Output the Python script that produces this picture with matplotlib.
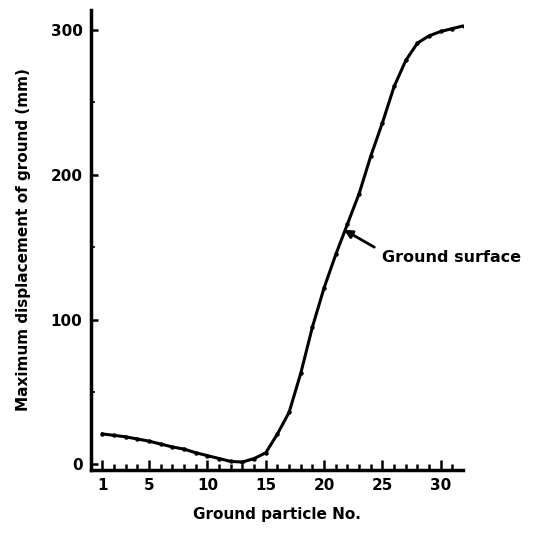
import matplotlib
matplotlib.use('Agg')
import matplotlib.pyplot as plt
from matplotlib.ticker import MultipleLocator

# ground particle number vs max displacement (mm)
particle = list(range(1, 33))
disp = [21, 20, 19, 17.5, 16, 14, 12, 10.5, 8, 6, 4, 2, 1.6, 4, 8, 21,
        36, 63, 95, 122, 145, 166, 187, 213, 236, 261, 279, 291, 296, 299, 301, 303]
xticks = [1, 5, 10, 15, 20, 25, 30]
yticks = [0, 100, 200, 300]

plt.rcParams['font.family'] = ['DejaVu Sans']
plt.rcParams['font.weight'] = 'bold'

fig = plt.figure(figsize=(5.34, 5.41), dpi=100)
ax = fig.add_axes([0.170, 0.131, 0.697, 0.851])

ax.plot(particle, disp, color='black', lw=2.2, marker='o', ms=2.2)

# short pointer from label to curve
ax.annotate('', xy=(21.7, 162), xytext=(24.3, 150),
            arrowprops=dict(arrowstyle='-|>', color='black', lw=2,
                            shrinkA=0, shrinkB=0, mutation_scale=12))
ax.text(25.0, 143, 'Ground surface', fontsize=11.5, fontweight='bold',
        va='center', ha='left')

ax.set_xlim(0, 31.9)
ax.set_ylim(-4, 314)
ax.set_xticks(xticks)
ax.set_yticks(yticks)
ax.xaxis.set_minor_locator(MultipleLocator(1))
ax.yaxis.set_minor_locator(MultipleLocator(50))
ax.tick_params(which='both', direction='in', width=1.8, labelsize=11)
ax.tick_params(axis='x', which='major', length=7, pad=6)
ax.tick_params(axis='x', which='minor', length=4, width=1.8)
ax.tick_params(axis='y', which='major', length=5, pad=6)
ax.tick_params(axis='y', which='minor', length=3, width=1.2)

for s in ['top', 'right']:
    ax.spines[s].set_visible(False)
for s in ['left', 'bottom']:
    ax.spines[s].set_linewidth(2.5)

ax.set_xlabel('Ground particle No.', fontsize=11, fontweight='bold', labelpad=10)
ax.set_ylabel('Maximum displacement of ground (mm)', fontsize=11,
              fontweight='bold', labelpad=14)

fig.savefig('out.png', dpi=100)
